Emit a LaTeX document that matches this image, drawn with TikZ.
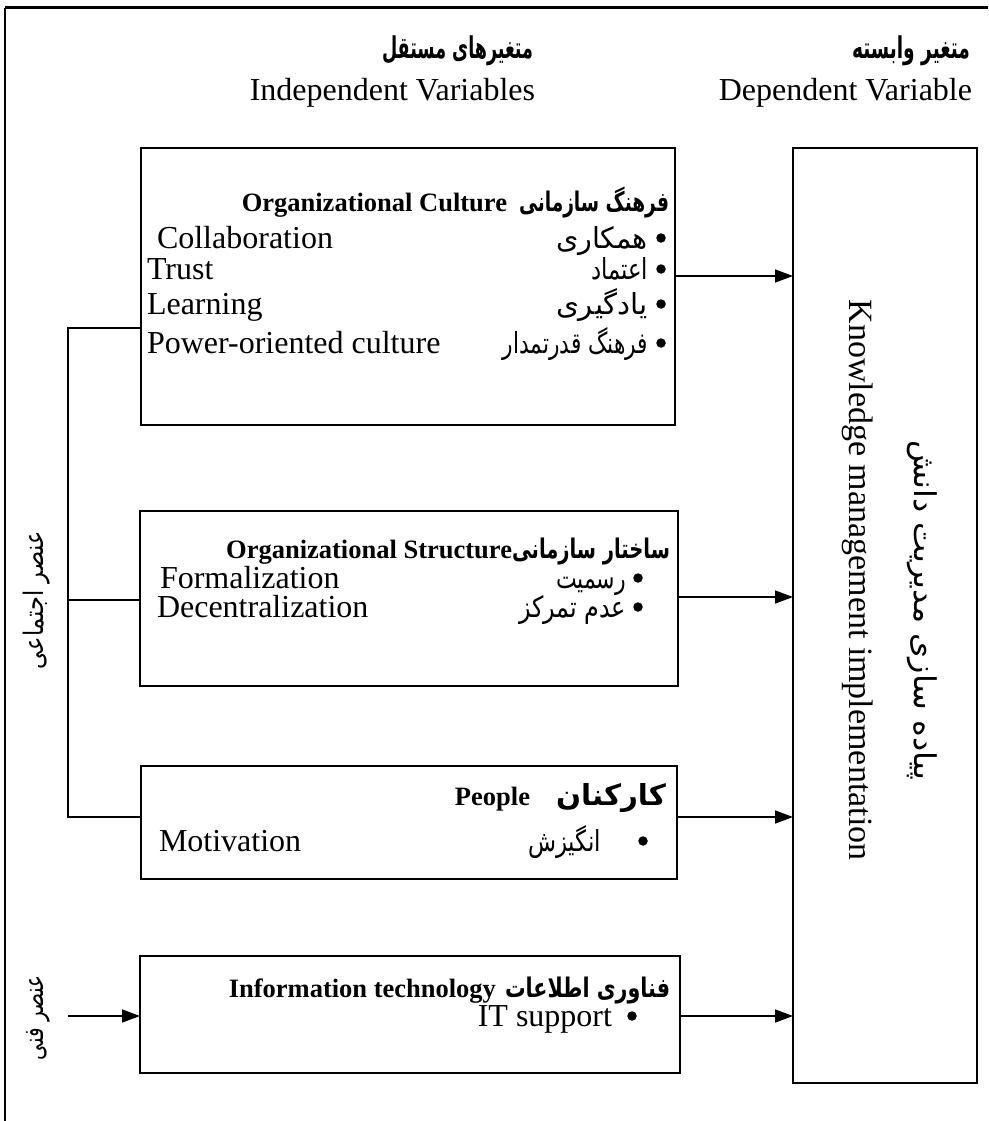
\documentclass[tikz,border=0pt]{standalone}
\usepackage{fontspec}
\usepackage{graphicx}
\setmainfont{Liberation Serif}
\newfontfamily\fa[Script=Arabic]{DejaVu Sans}
\TeXXeTstate=1
\usetikzlibrary{arrows.meta}
% Persian text: width in pt, font size in pt, right-to-left text
\newcommand{\fatx}[3]{\resizebox{#1pt}{\height}{\fontsize{#2pt}{#2pt}\selectfont\fa #3}}
\newcommand{\fatxb}[3]{\resizebox{#1pt}{\height}{\fontsize{#2pt}{#2pt}\selectfont\fa\bfseries #3}}

\begin{document}
\begin{tikzpicture}[x=1pt, y=-1pt,
  every node/.style={inner sep=0pt, outer sep=0pt},
  box/.style={draw, line width=1.8pt, anchor=north west},
  en/.style={font=\fontsize{32pt}{38pt}\selectfont},
  enb/.style={font=\fontsize{26.5pt}{31pt}\selectfont\bfseries},
  big/.style={font=\fontsize{34pt}{40pt}\selectfont},
  link/.style={line width=1.5pt},
  arr/.style={line width=1.5pt, -{Triangle[length=18pt,width=13pt]}},
  dot/.style={circle, fill, minimum size=9.5pt}
]
\useasboundingbox (0,0) rectangle (988,1121);

% frame: top and left edges
\draw[line width=3pt] (5,8) -- (988,8);
\draw[line width=2pt] (5,8) -- (5,1121);

% headings
\node[anchor=base east] (hIfa) at (533,59) {\fatxb{151}{30}{\beginR متغیرهای مستقل\endR}};
\node[en, anchor=base east] (hIen) at (535,101) {Independent Variables};
\node[anchor=base east] (hDfa) at (970,59) {\fatxb{118}{30}{\beginR متغیر وابسته\endR}};
\node[en, anchor=base east] (hDen) at (972,101) {Dependent Variable};

% boxes
\node[box, minimum width=534pt, minimum height=277pt] (b1) at (141,148) {};
\node[box, minimum width=538pt, minimum height=175pt] (b2) at (140,511) {};
\node[box, minimum width=536pt, minimum height=113pt] (b3) at (141,766) {};
\node[box, minimum width=540pt, minimum height=117pt] (b4) at (140,956) {};
\node[box, minimum width=184pt, minimum height=935pt] (kb) at (793,148) {};

% box 1: organizational culture
\node[anchor=base east] (t1fa) at (669,211) {\fatxb{150}{27}{\beginR فرهنگ سازمانی\endR}};
\node[enb, anchor=base east, xshift=-12pt] (t1en) at (t1fa.base west) {Organizational Culture};
\node[en, anchor=base west] (c1) at (157,248) {Collaboration};
\node[en, anchor=base west] (c2) at (147,279) {Trust};
\node[en, anchor=base west] (c3) at (147,314) {Learning};
\node[en, anchor=base west] (c4) at (147,353) {Power-oriented culture};
\node[anchor=base east] (f1) at (648,248) {\fatx{92}{29}{\beginR همکاری\endR}};
\node[anchor=base east] (f2) at (648,279) {\fatx{57}{29}{\beginR اعتماد\endR}};
\node[anchor=base east] (f3) at (648,314) {\fatx{92}{29}{\beginR یادگیری\endR}};
\node[anchor=base east] (f4) at (648,353) {\fatx{145}{29}{\beginR فرهنگ قدرتمدار\endR}};
\node[dot] (d11) at (661,238) {};
\node[dot] (d12) at (661,269) {};
\node[dot] (d13) at (661,304) {};
\node[dot] (d14) at (661,343) {};

% box 2: organizational structure
\node[anchor=base east] (t2fa) at (670,558) {\fatxb{158}{27}{\beginR ساختار سازمانی\endR}};
\node[enb, anchor=base east] (t2en) at (t2fa.base west) {Organizational Structure};
\node[en, anchor=base west] (s1) at (160,588) {Formalization};
\node[en, anchor=base west] (s2) at (157,617) {Decentralization};
\node[anchor=base east] (g1) at (626,588) {\fatx{70}{29}{\beginR رسمیت\endR}};
\node[anchor=base east] (g2) at (626,617) {\fatx{107}{29}{\beginR عدم تمرکز\endR}};
\node[dot] (d21) at (638,578) {};
\node[dot] (d22) at (638,607) {};

% box 3: people
\node[anchor=base east] (t3fa) at (666,805) {\fatxb{110}{29}{\beginR کارکنان\endR}};
\node[enb, anchor=base east, xshift=-26pt] (t3en) at (t3fa.base west) {People};
\node[en, anchor=base west] (p1) at (159,851) {Motivation};
\node[anchor=base east] (h1) at (601,851) {\fatx{73}{29}{\beginR انگیزش\endR}};
\node[dot] (d31) at (643,841) {};

% box 4: information technology
\node[anchor=base east] (t4fa) at (670,997) {\fatxb{165}{27}{\beginR فناوری اطلاعات\endR}};
\node[enb, anchor=base east, xshift=-9pt] (t4en) at (t4fa.base west) {Information technology};
\node[en, anchor=base east] (i1) at (612,1026) {IT support};
\node[dot] (d41) at (632,1016) {};

% dependent variable box
\node[big, rotate=-90] (kmen) at (858,580) {Knowledge management implementation};
\node[rotate=-90] (kmfa) at (922,610) {\fatx{340}{30}{\beginR پیاده سازی مدیریت دانش\endR}};

% side labels
\node[rotate=90] (social) at (37,600) {\fatx{138}{27}{\beginR عنصر اجتماعی\endR}};
\node[rotate=90] (tech) at (38,1018) {\fatx{85}{27}{\beginR عنصر فنی\endR}};

% connector levels
\coordinate (y1) at (0,276);
\coordinate (y2) at (0,597);
\coordinate (y3) at (0,817);
\coordinate (y4) at (0,1016);
\coordinate (bt) at (68,328);
\coordinate (bm) at (68,600);
\coordinate (bb) at (68,817);
\coordinate (tin) at (68,1016);

% social bracket
\draw[link] (b1.west |- bt) -- (bt) -- (bb) -- (b3.west |- bb);
\draw[link] (bm) -- (b2.west |- bm);
% technical input
\draw[arr] (tin) -- (b4.west |- tin);

% arrows into the dependent variable
\draw[arr] (b1.east |- y1) -- (kb.west |- y1);
\draw[arr] (b2.east |- y2) -- (kb.west |- y2);
\draw[arr] (b3.east |- y3) -- (kb.west |- y3);
\draw[arr] (b4.east |- y4) -- (kb.west |- y4);
\end{tikzpicture}
\end{document}
